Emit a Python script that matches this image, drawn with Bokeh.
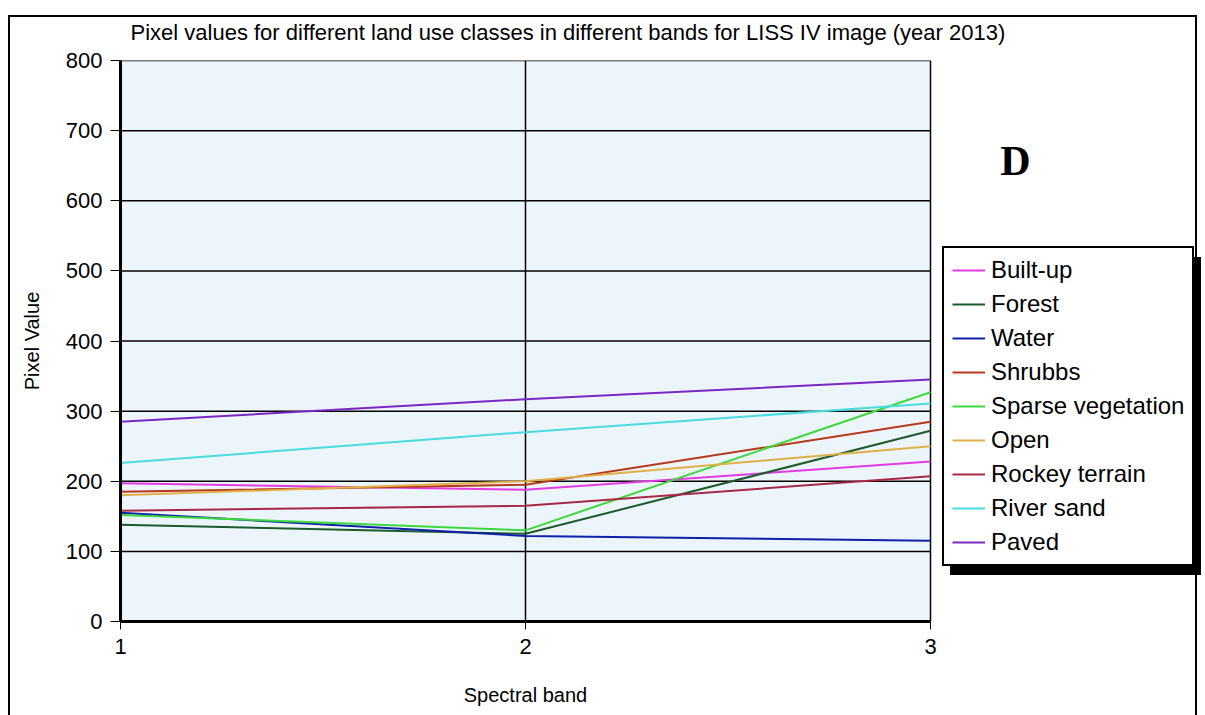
from bokeh.plotting import figure
from bokeh.models import (Legend, LegendItem, Label, BoxAnnotation, FixedTicker,
                          Range1d, LinearAxis)
from bokeh.embed import file_html
from bokeh.resources import INLINE

# Spectral bands and mean pixel values per land use class (LISS IV, 2013)
bands = [1, 2, 3]
built_up = [197, 188, 228]
forest = [138, 125, 272]
water = [155, 122, 115]
shrubbs = [185, 195, 285]
sparse_vegetation = [152, 130, 327]
open_land = [180, 200, 250]
rockey_terrain = [158, 165, 207]
river_sand = [226, 270, 311]
paved = [285, 317, 345]

class_names = ["Built-up", "Forest", "Water", "Shrubbs", "Sparse vegetation",
               "Open", "Rockey terrain", "River sand", "Paved"]
class_values = [built_up, forest, water, shrubbs, sparse_vegetation,
                open_land, rockey_terrain, river_sand, paved]
class_colors = ["#E23CE0", "#1E5A2A", "#1020A8", "#B8381C", "#3CD83C",
                "#E0B048", "#A82848", "#48DCDC", "#7A28C0"]

y_ticks = [0, 100, 200, 300, 400, 500, 600, 700, 800]
y_grid = y_ticks[1:-1]

FONT = "Liberation Sans"

# canvas geometry: the plotting area spans x 120..930, y 60..621; the frame itself
# runs on to the right canvas edge so the legend and panel letter sit inside it
W, H = 1205, 715
FL, FR, FT, FB = 120, 930, 60, 621
X0, X1, Y0, Y1 = bands[0], bands[-1], y_ticks[0], y_ticks[-1]
PX_PER_X = (FR - FL) / (X1 - X0)
PX_PER_Y = (FB - FT) / (Y1 - Y0)
X_END = X0 + (W - FL) / PX_PER_X


def fx(px):
    """canvas pixel column -> x data value"""
    return X0 + (px - FL) / PX_PER_X


def fy(py):
    """canvas pixel row -> y data value"""
    return Y0 + (FB - py) / PX_PER_Y


# legend box on the canvas: left, top, width, height
LGX, LGY, LGW, LGH = 942, 248, 251, 318

# outer chart frame and legend drop shadow, painted behind the transparent canvas
rects = [
    (LGX + 8, LGY + 9, LGW, LGH),   # legend shadow
    (8, 15, 1189, 2),               # top edge
    (8, 15, 2, 760),                # left edge
    (1195, 15, 2, 760),             # right edge
]
background = ", ".join(
    f"linear-gradient(#000, #000) {x}px {y}px / {w}px {h}px no-repeat" for x, y, w, h in rects
) + ", #ffffff"

p = figure(width=W, height=H, output_backend="svg", toolbar_location=None,
           x_range=Range1d(X0, X_END), y_range=Range1d(Y0, Y1),
           min_border_left=FL, min_border_right=0,
           min_border_top=FT, min_border_bottom=H - FB,
           background_fill_alpha=0, border_fill_alpha=0,
           styles={"background": background})
p.outline_line_color = None
p.xgrid.visible = False
p.ygrid.visible = False

# plotting area: light blue fill with a thin black border
p.add_layout(BoxAnnotation(left=X0, right=X1, bottom=Y0, top=Y1,
                           fill_color="#EDF5FC", fill_alpha=1,
                           line_color="black", line_alpha=1, line_width=1.5,
                           level="image"))

# title
p.title.text = "Pixel values for different land use classes in different bands for LISS IV image (year 2013)"
p.title.align = "left"
p.title.offset = 10
p.title.text_font = FONT
p.title.text_font_size = "22px"
p.title.text_font_style = "normal"
p.title.text_color = "black"
p.title.standoff = 31

# axes
p.xaxis.ticker = FixedTicker(ticks=bands)
p.yaxis.ticker = FixedTicker(ticks=y_ticks)
p.xaxis.bounds = (X0, X1)
for ax in (p.xaxis[0], p.yaxis[0]):
    ax.axis_line_color = "black"
    ax.axis_line_width = 3
    ax.major_tick_line_color = "black"
    ax.major_tick_line_width = 1
    ax.major_tick_in = 0
    ax.minor_tick_line_color = None
    ax.major_label_text_font = FONT
    ax.major_label_text_font_size = "22px"
    ax.major_label_text_color = "black"
    ax.axis_label_text_font = FONT
    ax.axis_label_text_font_size = "20px"
    ax.axis_label_text_font_style = "normal"
    ax.axis_label_text_color = "black"
p.yaxis.major_tick_out = 10
p.yaxis.major_label_standoff = 8
p.xaxis.major_tick_out = 8
p.xaxis.major_label_standoff = 9
p.yaxis.axis_label = "Pixel Value"
p.yaxis.axis_label_standoff = 20

# x axis title, centred under the middle band of the plotting area
mid_band = bands[len(bands) // 2]
x_title_axis = LinearAxis(ticker=FixedTicker(ticks=[mid_band]),
                          major_label_overrides={mid_band: "Spectral band"},
                          bounds=(X0, X1), axis_line_color=None,
                          major_tick_line_color=None, minor_tick_line_color=None,
                          major_label_standoff=21, major_label_text_font=FONT,
                          major_label_text_font_size="20px",
                          major_label_text_color="black")
p.add_layout(x_title_axis, "below")

# grid lines, limited to the plotting area
p.segment(x0=[X0] * len(y_grid), x1=[X1] * len(y_grid), y0=y_grid, y1=y_grid,
          line_color="black", line_width=1.5)
p.segment(x0=bands[1:-1], x1=bands[1:-1], y0=[Y0] * len(bands[1:-1]), y1=[Y1] * len(bands[1:-1]),
          line_color="black", line_width=1.5)

# one line per land use class
renderers = []
for name, vals, col in zip(class_names, class_values, class_colors):
    r = p.line(bands, vals, line_color=col, line_width=2)
    renderers.append(r)

legend = Legend(items=[LegendItem(label=n, renderers=[r]) for n, r in zip(class_names, renderers)],
                location=(LGX - FL, FB - (LGY + LGH)), margin=0, padding=8,
                spacing=6, glyph_width=33, glyph_height=20, label_height=20,
                label_standoff=6,
                label_text_font=FONT, label_text_font_size="24px",
                label_text_color="black",
                border_line_color="black", border_line_width=2, border_line_alpha=1,
                background_fill_color="white", background_fill_alpha=1)
p.add_layout(legend, "center")

# panel letter
p.add_layout(Label(x=fx(1015), y=fy(160), text="D", text_font="Liberation Serif",
                   text_font_size="42px", text_font_style="bold",
                   text_baseline="middle", text_align="center", text_color="black"))

open("out.html", "w").write(file_html(p, INLINE))
